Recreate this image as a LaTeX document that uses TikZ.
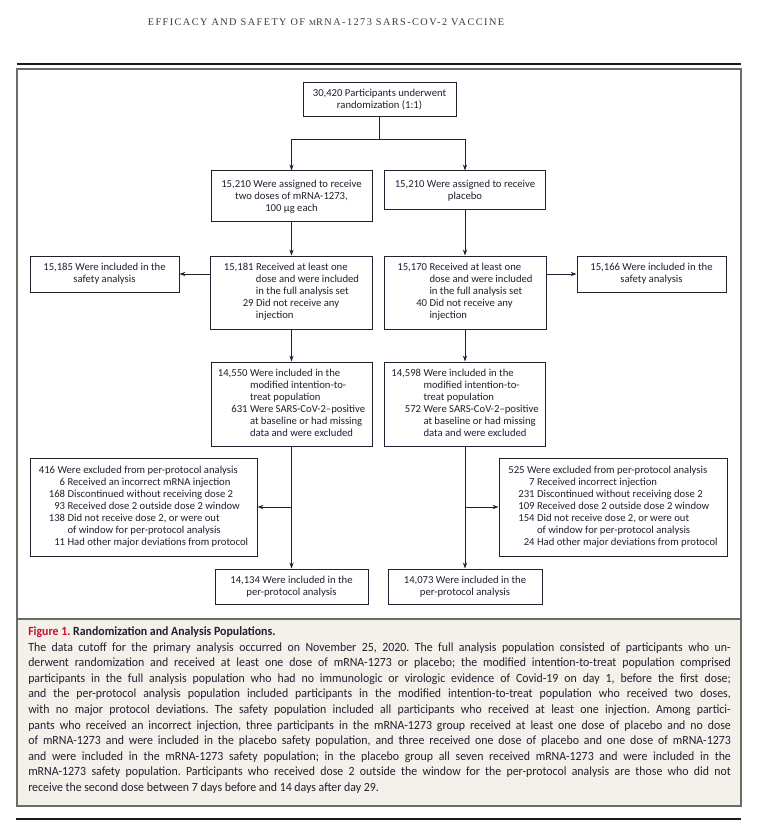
\documentclass[tikz,border=0pt]{standalone}
\usepackage{fontspec}
\setmainfont{Carlito}
\newfontfamily\capfont{Carlito}[FakeStretch=0.945]
\newfontfamily\headfont{Liberation Serif}[LetterSpace=14]
\usepackage{tikz}
\usetikzlibrary{arrows.meta, positioning, calc}
\definecolor{nink}{HTML}{231F2E}
\definecolor{nframe}{HTML}{6B6B6B}
\definecolor{nred}{HTML}{C8102E}
\definecolor{nbeige}{HTML}{F4F0EA}
\definecolor{nhead}{HTML}{3A3A3A}
\tikzset{
  flowbox/.style={draw=nink, line width=0.75pt, fill=white, text=nink,
                  font=\fontsize{8}{9}\selectfont, inner sep=2pt, align=center},
  arr/.style={-{Stealth[length=4.5pt,width=3.2pt]}, line width=0.7pt, nink},
  ln/.style={line width=0.7pt, nink},
  rule/.style={line width=1.5pt, black!90},
}

\begin{document}
\begin{tikzpicture}[x=0.75pt, y=-0.75pt]
  \useasboundingbox (0,0) rectangle (758,827);

  % page head and frame
  \node[font=\headfont\fontsize{7.7}{8}\selectfont, text=nhead] (head) at (326,22)
    {EFFICACY AND SAFETY OF {\fontsize{5.9}{6}\selectfont M}RNA-1273 SARS-COV-2 VACCINE};
  \draw[rule] (17,64) -- (741,64);
  \draw[draw=nframe, line width=0.9pt] (17,69) rectangle (741,806);
  \draw[draw=nframe, line width=0.9pt, fill=nbeige] (17,619) rectangle (741,806);
  \draw[rule] (16,819) -- (741,819);

  % randomization
  \node[flowbox, minimum width=114.75pt, minimum height=25.5pt] (rand) at (379.5,100)
    {30,420 Participants underwent\\randomization (1:1)};
  \coordinate (split) at (379.5,139);

  \node[flowbox, minimum width=120.75pt, minimum height=38.25pt] (armvac) at (291.5,196.5)
    {15,210 Were assigned to receive\\two doses of mRNA-1273,\\100 µg each};
  \node[flowbox, minimum width=120.75pt, minimum height=29.25pt] (armplc) at (465,190.5)
    {15,210 Were assigned to receive\\placebo};

  % full analysis set
  \node[flowbox, minimum width=121.5pt, minimum height=54.75pt] (fasvac) at (291.5,292.5)
    {\begin{tabular}{@{}r@{\ }l@{}}
      15,181 & Received at least one\\
             & dose and were included\\
             & in the full analysis set\\
          29 & Did not receive any\\
             & injection
    \end{tabular}};
  \node[flowbox, minimum width=121.5pt, minimum height=54.75pt] (fasplc) at (465,292.5)
    {\begin{tabular}{@{}r@{\ }l@{}}
      15,170 & Received at least one\\
             & dose and were included\\
             & in the full analysis set\\
          40 & Did not receive any\\
             & injection
    \end{tabular}};

  \node[flowbox, minimum width=111.75pt, minimum height=27pt] (safvac) at (104.5,274)
    {15,185 Were included in the\\safety analysis};
  \node[flowbox, minimum width=111.75pt, minimum height=27pt] (safplc) at (651.5,274)
    {15,166 Were included in the\\safety analysis};

  % modified intention-to-treat
  \node[flowbox, minimum width=120.75pt, minimum height=63pt] (mittvac) at (291.5,404)
    {\begin{tabular}{@{}r@{\ }l@{}}
      14,550 & Were included in the\\
             & modified intention-to-\\
             & treat population\\
         631 & Were SARS-CoV-2--positive\\
             & at baseline or had missing\\
             & data and were excluded
    \end{tabular}};
  \node[flowbox, minimum width=120.75pt, minimum height=63pt] (mittplc) at (465,404)
    {\begin{tabular}{@{}r@{\ }l@{}}
      14,598 & Were included in the\\
             & modified intention-to-\\
             & treat population\\
         572 & Were SARS-CoV-2--positive\\
             & at baseline or had missing\\
             & data and were excluded
    \end{tabular}};

  % per-protocol exclusions
  \node[flowbox, minimum width=170.25pt, minimum height=73.5pt] (exvac) at (143.5,507)
    {\begin{tabular}{@{\hspace{7.5pt}}r@{\ }l@{}}
      \multicolumn{2}{@{}l@{}}{416 Were excluded from per-protocol analysis}\\
        6 & Received an incorrect mRNA injection\\
      168 & Discontinued without receiving dose 2\\
       93 & Received dose 2 outside dose 2 window\\
      138 & Did not receive dose 2, or were out\\
          & of window for per-protocol analysis\\
       11 & Had other major deviations from protocol
    \end{tabular}};
  \node[flowbox, minimum width=171pt, minimum height=73.5pt] (explc) at (613,507)
    {\begin{tabular}{@{\hspace{7.5pt}}r@{\ }l@{}}
      \multicolumn{2}{@{}l@{}}{525 Were excluded from per-protocol analysis}\\
        7 & Received incorrect injection\\
      231 & Discontinued without receiving dose 2\\
      109 & Received dose 2 outside dose 2 window\\
      154 & Did not receive dose 2, or were out\\
          & of window for per-protocol analysis\\
       24 & Had other major deviations from protocol
    \end{tabular}};

  \node[flowbox, minimum width=114.75pt, minimum height=26.25pt] (ppvac) at (291.5,586.5)
    {14,134 Were included in the\\per-protocol analysis};
  \node[flowbox, minimum width=115.5pt, minimum height=26.25pt] (ppplc) at (465,586.5)
    {14,073 Were included in the\\per-protocol analysis};

  % connectors
  \draw[ln] (rand) -- (split);
  \draw[arr] (split) -| (armvac);
  \draw[arr] (split) -| (armplc);
  \draw[arr] (armvac) -- (fasvac);
  \draw[arr] (armplc) -- (fasplc);
  \draw[arr] (fasvac.west |- safvac.east) -- (safvac.east);
  \draw[arr] (fasplc.east |- safplc.west) -- (safplc.west);
  \draw[arr] (fasvac) -- (mittvac);
  \draw[arr] (fasplc) -- (mittplc);
  \draw[arr] (mittvac) -- (ppvac);
  \draw[arr] (mittplc) -- (ppplc);
  \draw[arr] (mittvac.south |- exvac.east) -- (exvac.east);
  \draw[arr] (mittplc.south |- explc.west) -- (explc.west);

  % caption
  \node[anchor=north west, inner sep=0pt, text width=527pt, align=justify, text=nink,
        font=\capfont\fontsize{9.4}{11.7}\selectfont] (caption) at (28,626.5)
    {\hyphenpenalty10000 \frenchspacing {\color{nred}\bfseries Figure 1.} {\bfseries Randomization and Analysis Populations.}\\
    The data cutoff for the primary analysis occurred on November 25, 2020. The full analysis population consisted of participants who un-\linebreak
    derwent randomization and received at least one dose of mRNA-1273 or placebo; the modified intention-to-treat population comprised\linebreak
    participants in the full analysis population who had no immunologic or virologic evidence of Covid-19 on day 1, before the first dose;\linebreak
    and the per-protocol analysis population included participants in the modified intention-to-treat population who received two doses,\linebreak
    with no major protocol deviations. The safety population included all participants who received at least one injection. Among partici-\linebreak
    pants who received an incorrect injection, three participants in the mRNA-1273 group received at least one dose of placebo and no dose\linebreak
    of mRNA-1273 and were included in the placebo safety population, and three received one dose of placebo and one dose of mRNA-1273\linebreak
    and were included in the mRNA-1273 safety population; in the placebo group all seven received mRNA-1273 and were included in the\linebreak
    mRNA-1273 safety population. Participants who received dose 2 outside the window for the per-protocol analysis are those who did not\linebreak
    receive the second dose between 7 days before and 14 days after day 29.};
\end{tikzpicture}
\end{document}
